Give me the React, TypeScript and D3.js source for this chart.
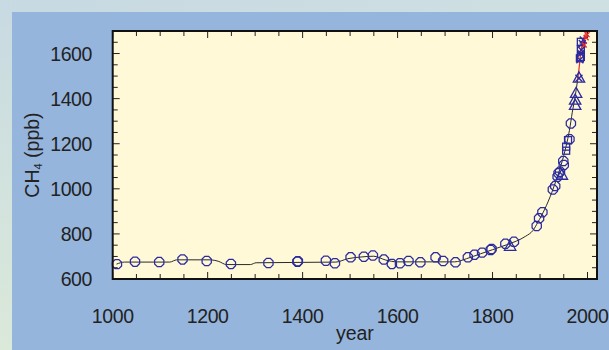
import React from "react";
import * as d3 from "d3";

const xTicksMajor = [1000, 1200, 1400, 1600, 1800, 2000];
const yTicksMajor = [600, 800, 1000, 1200, 1400, 1600];

// Ice-core samples (circles)
const circleYears = [1009, 1047, 1098, 1147, 1198, 1249, 1328, 1389, 1390, 1449, 1468, 1501, 1529, 1548, 1571, 1588, 1605, 1623, 1648, 1680, 1696, 1722, 1748, 1762, 1778, 1796, 1798, 1827, 1845, 1893, 1898, 1905, 1927, 1932, 1937, 1939, 1942, 1950, 1949, 1962, 1965];
const circleValues = [666, 677, 675, 687, 680, 667, 671, 677, 679, 681, 670, 696, 699, 704, 686, 667, 670, 680, 674, 696, 680, 674, 696, 708, 717, 729, 733, 756, 765, 835, 869, 896, 997, 1012, 1054, 1069, 1076, 1106, 1123, 1220, 1290];

// Firn / second core (triangles)
const triangleYears = [1837, 1946, 1974, 1974, 1976, 1982];
const triangleValues = [746, 1061, 1371, 1394, 1424, 1492];

// Squares
const squareYears = [1955, 1955, 1959, 1984, 1986, 1986, 1986];
const squareValues = [1187, 1169, 1216, 1579, 1585, 1620, 1652];

// Blue crosses
const crossYears = [1982, 1984, 1986, 1987, 1989, 1991];
const crossValues = [1490, 1572, 1600, 1616, 1645, 1660];

// Red crosses (atmospheric)
const redCrossYears = [1993, 1997, 1999];
const redCrossValues = [1638, 1670, 1684];

// Smoothed fit (black)
const fitYears = [1008, 1025, 1120, 1135, 1205, 1222, 1240, 1290, 1302, 1470, 1495, 1525, 1550, 1575, 1600, 1720, 1745, 1775, 1800, 1830, 1850, 1870, 1885, 1895, 1910, 1925, 1935, 1945, 1955, 1962, 1968, 1974, 1979];
const fitValues = [666, 675, 675, 685, 685, 679, 664, 664, 672, 675, 690, 698, 701, 684, 676, 676, 690, 712, 730, 752, 768, 790, 815, 850, 910, 985, 1045, 1110, 1190, 1260, 1340, 1410, 1480];

// Atmospheric record line (red)
const atmYears = [1979, 1982, 1985, 1988, 1991, 1995, 2000];
const atmValues = [1480, 1530, 1590, 1630, 1660, 1685, 1702];

const W = 609;
const H = 350;
const L = 112.7, R = 597, T = 31, B = 279;
const MARK = "#2b2b9e";
const FONT = "'Liberation Sans', Arial, Helvetica, sans-serif";

export default function App() {
  const x = d3.scaleLinear().domain([1000, 2020]).range([L, R]);
  const y = d3.scaleLinear().domain([600, 1700]).range([B, T]);

  const line = d3
    .line<[number, number]>()
    .x((d) => x(d[0]))
    .y((d) => y(d[1]))
    .curve(d3.curveMonotoneX);

  const fitPts = fitYears.map((yr, i) => [yr, fitValues[i]] as [number, number]);
  const atmPts = atmYears.map((yr, i) => [yr, atmValues[i]] as [number, number]);

  const xMinor = d3.range(1000, 2021, 50);
  const yMinor = d3.range(600, 1701, 50);

  const octagon = (cx: number, cy: number, r: number) => {
    const pts: string[] = [];
    for (let k = 0; k < 8; k++) {
      const a = (Math.PI / 8) * (2 * k + 1);
      pts.push(`${(cx + r * Math.cos(a)).toFixed(2)},${(cy + r * Math.sin(a)).toFixed(2)}`);
    }
    return pts.join(" ");
  };
  const tri = (cx: number, cy: number, s: number) =>
    `${cx},${cy - s} ${cx + s * 0.95},${cy + s * 0.7} ${cx - s * 0.95},${cy + s * 0.7}`;

  return (
    <div style={{ position: "absolute", left: 0, top: 0, width: W, height: H }}>
      <svg width={W} height={H} style={{ display: "block" }}>
        <defs>
          <linearGradient id="bg" x1="0" y1="0" x2="1" y2="1">
            <stop offset="0" stopColor="#c7d9e1" />
            <stop offset="0.5" stopColor="#cfe0e2" />
            <stop offset="1" stopColor="#c9dbe0" />
          </linearGradient>
          <linearGradient id="bgl" x1="0" y1="0" x2="0" y2="1">
            <stop offset="0" stopColor="#c8dae2" />
            <stop offset="1" stopColor="#dbe9d9" />
          </linearGradient>
        </defs>
        <rect x={0} y={0} width={W} height={H} fill="url(#bg)" />
        <rect x={0} y={0} width={12} height={H} fill="url(#bgl)" />
        <rect x={12} y={12} width={W - 12} height={H - 12} fill="#95b5dd" />

        {/* plot area */}
        <rect x={L} y={T} width={R - L} height={B - T} fill="#fff9d8" />

        {/* ticks */}
        {xMinor.map((v) => {
          const major = v % 200 === 0;
          const len = major ? 7 : 5;
          return (
            <g key={"xt" + v} stroke="#222" strokeWidth={1}>
              <line x1={x(v)} x2={x(v)} y1={B} y2={B - len} />
              <line x1={x(v)} x2={x(v)} y1={T} y2={T + len} />
            </g>
          );
        })}
        {yMinor.map((v) => {
          const major = v % 200 === 0;
          const len = major ? 7 : 5;
          return (
            <g key={"yt" + v} stroke="#222" strokeWidth={1}>
              <line x1={L} x2={L + len} y1={y(v)} y2={y(v)} />
              <line x1={R} x2={R - len} y1={y(v)} y2={y(v)} />
            </g>
          );
        })}

        {/* curves */}
        <path d={line(fitPts) || ""} fill="none" stroke="#2a2a2a" strokeWidth={1} />
        <path d={line(atmPts) || ""} fill="none" stroke="#e8262a" strokeWidth={1.2} />

        {/* markers */}
        {circleYears.map((yr, i) => (
          <polygon
            key={"c" + i}
            points={octagon(x(yr), y(circleValues[i]), 5)}
            fill="none"
            stroke={MARK}
            strokeWidth={1.25}
          />
        ))}
        {triangleYears.map((yr, i) => (
          <polygon
            key={"t" + i}
            points={tri(x(yr), y(triangleValues[i]), 6)}
            fill="none"
            stroke={MARK}
            strokeWidth={1.3}
          />
        ))}
        {squareYears.map((yr, i) => (
          <rect
            key={"s" + i}
            x={x(yr) - 3.5}
            y={y(squareValues[i]) - 3.5}
            width={7}
            height={7}
            fill="none"
            stroke={MARK}
            strokeWidth={1.3}
          />
        ))}
        {crossYears.map((yr, i) => {
          const cx = x(yr), cy = y(crossValues[i]);
          return (
            <g key={"x" + i} stroke={MARK} strokeWidth={1.4}>
              <line x1={cx - 3.5} x2={cx + 3.5} y1={cy - 3.5} y2={cy + 3.5} />
              <line x1={cx - 3.5} x2={cx + 3.5} y1={cy + 3.5} y2={cy - 3.5} />
            </g>
          );
        })}
        {redCrossYears.map((yr, i) => {
          const cx = x(yr), cy = y(redCrossValues[i]);
          return (
            <g key={"rx" + i} stroke="#e8262a" strokeWidth={1.3}>
              <line x1={cx - 2.5} x2={cx + 2.5} y1={cy - 2.5} y2={cy + 2.5} />
              <line x1={cx - 2.5} x2={cx + 2.5} y1={cy + 2.5} y2={cy - 2.5} />
            </g>
          );
        })}

        {/* frame */}
        <rect x={L} y={T} width={R - L} height={B - T} fill="none" stroke="#111" strokeWidth={2} />

        {/* tick labels */}
        {xTicksMajor.map((v) => (
          <text
            key={"xl" + v}
            x={x(v)}
            y={323}
            textAnchor="middle"
            fontFamily={FONT}
            fontSize={19.5}
            fill="#222"
            letterSpacing={-0.4}
          >
            {v}
          </text>
        ))}
        {yTicksMajor.map((v) => (
          <text
            key={"yl" + v}
            x={92}
            y={y(v) + 7}
            textAnchor="end"
            fontFamily={FONT}
            fontSize={19.5}
            fill="#222"
            letterSpacing={-0.4}
          >
            {v}
          </text>
        ))}

        {/* axis titles */}
        <text x={(L + R) / 2} y={340} textAnchor="middle" fontFamily={FONT} fontSize={19.5} fill="#222">
          year
        </text>
        <text
          transform={`translate(39, ${(T + B) / 2}) rotate(-90)`}
          textAnchor="middle"
          fontFamily={FONT}
          fontSize={19.5}
          fill="#222"
        >
          CH<tspan fontSize={11} dy={3}>4</tspan>
          <tspan dy={-3}> (ppb)</tspan>
        </text>
      </svg>
    </div>
  );
}
